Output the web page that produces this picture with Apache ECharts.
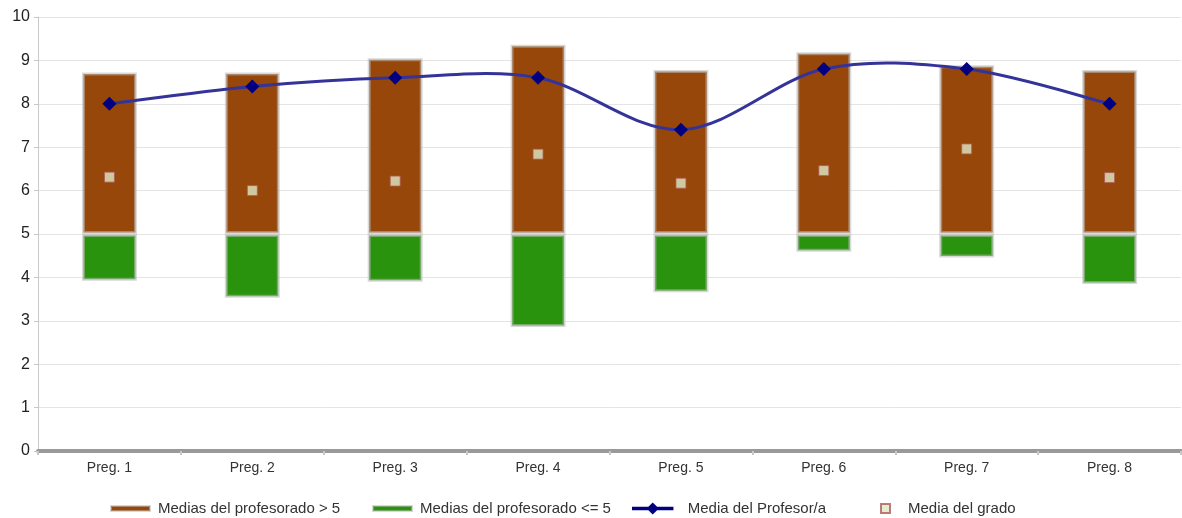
<!DOCTYPE html>
<html>
<head>
<meta charset="utf-8">
<script src="https://cdn.jsdelivr.net/npm/echarts@6/dist/echarts.min.js"></script>
<style>
  html, body { margin: 0; padding: 0; background: #fff; }
  #chart { width: 1182px; height: 518px; }
</style>
</head>
<body>
<div id="chart"></div>
<script>
// Question labels
const categories = ['Preg. 1', 'Preg. 2', 'Preg. 3', 'Preg. 4', 'Preg. 5', 'Preg. 6', 'Preg. 7', 'Preg. 8'];
// Highest teacher average per question (brown bar spans 5 → this value)
const highTop = [8.72, 8.72, 9.05, 9.36, 8.78, 9.19, 8.89, 8.78];
// Lowest teacher average per question (green bar spans this value → 5)
const lowBottom = [3.92, 3.53, 3.90, 2.86, 3.66, 4.59, 4.46, 3.85];
// Individual teacher average
const profesor = [8.0, 8.4, 8.6, 8.6, 7.4, 8.8, 8.8, 8.0];
// Degree average
const grado = [6.31, 6.0, 6.22, 6.84, 6.17, 6.46, 6.96, 6.3];
const pivot = 5;

const greenPart = lowBottom.map(v => +(pivot - v).toFixed(3));
const brownPart = highTop.map(v => +(v - pivot).toFixed(3));

const fontFam = '"Liberation Sans", Arial, sans-serif';
const halo = { borderColor: 'rgba(185,185,185,0.55)', borderWidth: 3 };
const lineColor = '#33339a';
const markerColor = '#000080';

// Cardinal-spline path through the teacher averages (spreadsheet-style smoothing)
function renderSpline(params, api) {
  if (params.dataIndex !== 0) return null;
  const pts = profesor.map((v, i) => api.coord([i, v]));
  const n = pts.length;
  const t = 1 / 6;
  let d = 'M' + pts[0][0] + ' ' + pts[0][1];
  for (let i = 0; i < n - 1; i++) {
    const p0 = pts[Math.max(i - 1, 0)];
    const p1 = pts[i];
    const p2 = pts[i + 1];
    const p3 = pts[Math.min(i + 2, n - 1)];
    const c1x = p1[0] + (p2[0] - p0[0]) * t, c1y = p1[1] + (p2[1] - p0[1]) * t;
    const c2x = p2[0] - (p3[0] - p1[0]) * t, c2y = p2[1] - (p3[1] - p1[1]) * t;
    d += ' C' + c1x + ' ' + c1y + ' ' + c2x + ' ' + c2y + ' ' + p2[0] + ' ' + p2[1];
  }
  return {
    type: 'path',
    shape: { pathData: d },
    style: { fill: null, stroke: lineColor, lineWidth: 3 }
  };
}

const legendText = { fontFamily: fontFam, fontSize: 15, color: '#333', padding: [0, 0, 0, 3] };
// Legend glyph: short line with a diamond in the middle (38 x 12 box)
const lineIcon = 'path://M0,4.5 L15,4.5 L19,0.5 L23,4.5 L38,4.5 L38,7.5 L23,7.5 L19,11.5 L15,7.5 L0,7.5 Z';

const chart = echarts.init(document.getElementById('chart'), null, { renderer: 'canvas' });
chart.setOption({
  animation: false,
  grid: { left: 38, right: 1, top: 17, bottom: 67, containLabel: false },
  legend: [
    {
      data: [{ name: 'Medias del profesorado > 5', icon: 'rect' }],
      left: 110, top: 501, padding: 0, itemWidth: 39, itemHeight: 5,
      textStyle: legendText
    },
    {
      data: [{ name: 'Medias del profesorado <= 5', icon: 'rect' }],
      left: 372, top: 501, padding: 0, itemWidth: 39, itemHeight: 5,
      textStyle: legendText
    },
    {
      data: [{ name: 'Media del Profesor/a', icon: lineIcon }],
      left: 632, top: 501, padding: 0, itemWidth: 42, itemHeight: 12,
      textStyle: Object.assign({}, legendText, { padding: [0, 0, 0, 9] })
    },
    {
      data: [{ name: 'Media del grado', icon: 'rect' }],
      left: 880, top: 501, padding: 0, itemWidth: 9, itemHeight: 9,
      textStyle: Object.assign({}, legendText, { padding: [0, 0, 0, 13] })
    }
  ],
  xAxis: {
    type: 'category',
    data: categories,
    boundaryGap: true,
    axisLine: { show: true, lineStyle: { color: '#999', width: 4 } },
    axisTick: { show: true, length: 4, lineStyle: { color: '#c8c8c8', width: 2 } },
    axisLabel: { fontFamily: fontFam, fontSize: 14, color: '#333', margin: 10 },
    splitLine: { show: false }
  },
  yAxis: {
    type: 'value',
    min: 0, max: 10, interval: 1,
    axisLine: { show: true, lineStyle: { color: '#c8c8c8', width: 1 } },
    axisTick: { show: true, length: 4, lineStyle: { color: '#c8c8c8' } },
    axisLabel: { fontFamily: fontFam, fontSize: 16, color: '#222', margin: 8 },
    splitLine: { lineStyle: { color: '#e4e4e4', width: 1 } }
  },
  series: [
    {
      name: 'base', type: 'bar', stack: 'rango', data: lowBottom,
      barWidth: 55, silent: true,
      itemStyle: { color: 'transparent', borderWidth: 0 }
    },
    {
      name: 'Medias del profesorado <= 5', type: 'bar', stack: 'rango', data: greenPart,
      barWidth: 55,
      itemStyle: Object.assign({ color: '#2a930e' }, halo)
    },
    {
      name: 'Medias del profesorado > 5', type: 'bar', stack: 'rango', data: brownPart,
      barWidth: 55,
      itemStyle: Object.assign({ color: '#974709' }, halo)
    },
    {
      name: 'curva', type: 'custom', data: profesor.map((v, i) => [i, v]),
      renderItem: renderSpline, z: 5, silent: true
    },
    {
      name: 'Media del Profesor/a', type: 'line', data: profesor,
      z: 6,
      lineStyle: { width: 0, opacity: 0 },
      symbol: 'diamond', symbolSize: 14,
      itemStyle: { color: markerColor }
    },
    {
      name: 'Media del grado', type: 'scatter', data: grado,
      symbol: 'rect', symbolSize: 10, z: 4,
      itemStyle: { color: '#dfe8c6', borderColor: '#b05a5a', borderWidth: 1 }
    }
  ]
});
</script>
</body>
</html>
